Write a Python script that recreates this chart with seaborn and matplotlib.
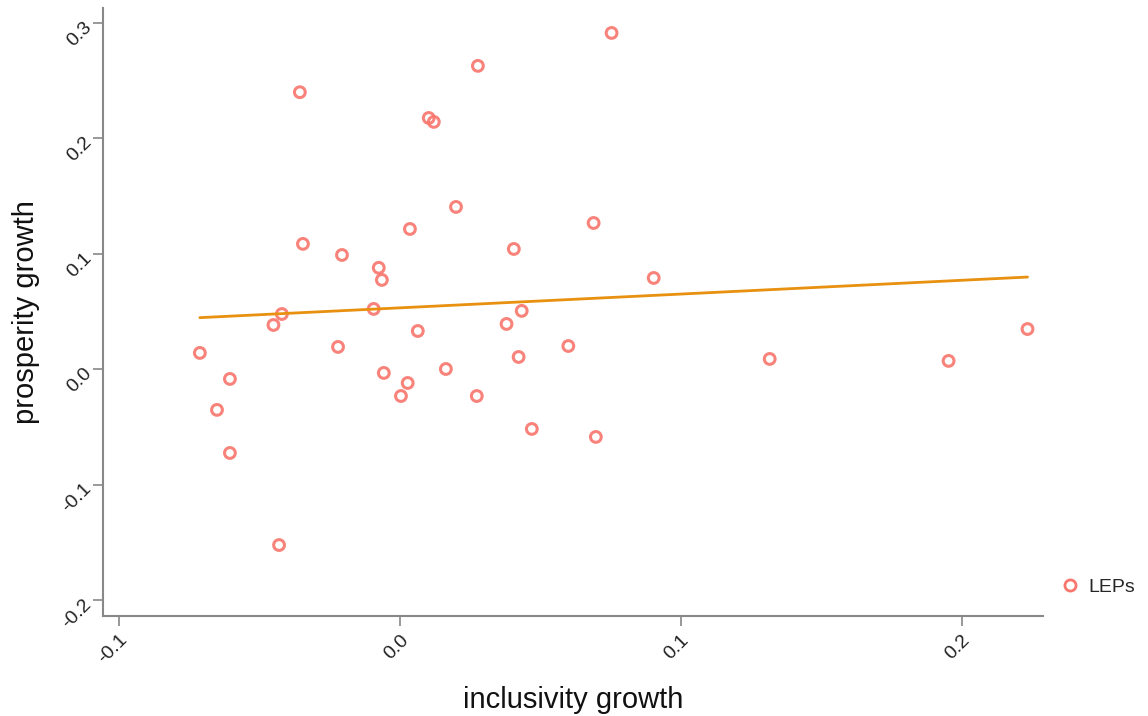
import matplotlib
matplotlib.use("Agg")
import matplotlib.pyplot as plt
import seaborn as sns
import pandas as pd

inclusivity_growth = [-0.0712, -0.0651, -0.0605, -0.0605, -0.0430, -0.0450, -0.0420, -0.0356,
                      -0.0345, -0.0220, -0.0206, -0.0093, -0.0075, -0.0064, -0.0057, 0.0004,
                      0.0028, 0.0036, 0.0064, 0.0103, 0.0121, 0.0164, 0.0200, 0.0274,
                      0.0278, 0.0380, 0.0406, 0.0423, 0.0434, 0.0470, 0.0600, 0.0690,
                      0.0698, 0.0754, 0.0904, 0.1317, 0.1954, 0.2235]
prosperity_growth = [0.0143, -0.0350, -0.0082, -0.0723, -0.1520, 0.0385, 0.0480, 0.2400,
                     0.1087, 0.0195, 0.0991, 0.0524, 0.0880, 0.0775, -0.0030, -0.0230,
                     -0.0117, 0.1216, 0.0333, 0.2177, 0.2143, 0.0004, 0.1407, -0.0230,
                     0.2628, 0.0394, 0.1043, 0.0108, 0.0507, -0.0515, 0.0203, 0.1268,
                     -0.0584, 0.2913, 0.0792, 0.0091, 0.0074, 0.0350]
group = "LEPs"
x_ticks = [-0.1, 0.0, 0.1, 0.2]
y_ticks = [-0.2, -0.1, 0.0, 0.1, 0.2, 0.3]

df = pd.DataFrame({"inclusivity growth": inclusivity_growth,
                   "prosperity growth": prosperity_growth,
                   "group": group})

sns.set_style("white")
plt.rcParams["font.family"] = ["Liberation Sans", "DejaVu Sans"]

fig = plt.figure(figsize=(11.48, 7.16), dpi=100)
ax = fig.add_axes([0.0897, 0.1397, 0.8188, 0.8493])

point_color = "#F8766D"
line_color = "#E8900F"

sns.regplot(data=df, x="inclusivity growth", y="prosperity growth", ax=ax, ci=None,
            scatter=False, truncate=True,
            line_kws=dict(color=line_color, lw=2))
sns.scatterplot(data=df, x="inclusivity growth", y="prosperity growth", ax=ax,
                marker="o", s=60, facecolors="none", edgecolors=point_color,
                linewidths=2.2, alpha=0.9, legend=False)

ax.set_xlim(-0.1057, 0.229)
ax.set_ylim(-0.2134, 0.313)
ax.set_xticks(x_ticks)
ax.set_yticks(y_ticks)
ax.set_xticklabels([f"{v:.1f}" for v in x_ticks], rotation=45, ha="right",
                   rotation_mode="anchor", fontsize=14, color="#222222")
ax.set_yticklabels([f"{v:.1f}" for v in y_ticks], rotation=45, ha="right",
                   rotation_mode="anchor", fontsize=14, color="#222222")
ax.tick_params(axis="both", direction="out", length=7, width=1.2, color="#888888",
               bottom=True, left=True, pad=4)
for side in ["top", "right"]:
    ax.spines[side].set_visible(False)
for side in ["left", "bottom"]:
    ax.spines[side].set_color("#888888")
    ax.spines[side].set_linewidth(1.5)

ax.set_xlabel("inclusivity growth", fontsize=21, labelpad=14, color="#111111")
ax.set_ylabel("prosperity growth", fontsize=21, labelpad=14, color="#111111")

handle = plt.Line2D([], [], marker="o", linestyle="none", markersize=8,
                    markerfacecolor="none", markeredgecolor=point_color, markeredgewidth=2)
fig.legend([handle], [group], loc="center left", bbox_to_anchor=(0.907, 0.18),
           frameon=False, fontsize=14, handletextpad=0.3, handlelength=1.2)

fig.savefig("out.png", dpi=100)
